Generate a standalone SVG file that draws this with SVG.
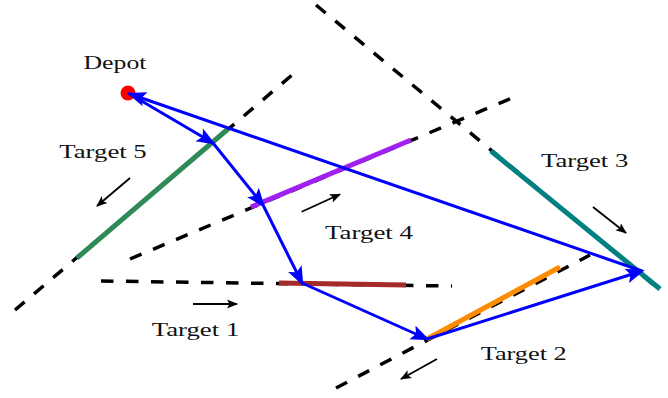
<svg xmlns="http://www.w3.org/2000/svg" width="668" height="398" viewBox="0 0 668 398">
  <defs>
    <marker id="bh" markerUnits="userSpaceOnUse" markerWidth="20" markerHeight="16" viewBox="0 0 20 16" refX="16" refY="8" orient="auto">
      <path d="M0,0.5 L19,8 L0,15.5 L4,8 Z" fill="#0000ff"/>
    </marker>
    <marker id="kh" markerUnits="userSpaceOnUse" markerWidth="12" markerHeight="10" viewBox="0 0 12 10" refX="10" refY="5" orient="auto">
      <path d="M0,0.5 L11,5 L0,9.5 L2.5,5 Z" fill="#000"/>
    </marker>
    <style>
      .dash { stroke: #000; stroke-width: 3.5; stroke-dasharray: 12.5 12.5; fill: none; }
      .seg { stroke-width: 5; fill: none; stroke-linecap: butt; }
      .dir { stroke: #000; stroke-width: 1.8; fill: none; marker-end: url(#kh); }
      .lbl { font-family: "Liberation Serif", "DejaVu Serif", serif; font-size: 18px; fill: #111; }
      .route { stroke: #0000ff; stroke-width: 3; fill: none; marker-end: url(#bh); }
    </style>
  </defs>
  <rect width="668" height="398" fill="#fff"/>

  <g id="target5">
    <line class="dash" x1="15" y1="310" x2="298" y2="70"/>
    <line class="seg" stroke="#2e8b57" x1="77" y1="258" x2="228" y2="129"/>
    <line class="dir" x1="130" y1="178" x2="97" y2="206"/>
    <text class="lbl" x="59.3" y="158.3" textLength="87.4" lengthAdjust="spacingAndGlyphs">Target 5</text>
  </g>

  <g id="target4">
    <line class="dash" x1="130" y1="259" x2="519" y2="95"/>
    <line class="seg" stroke="#a020f0" x1="251" y1="207" x2="411" y2="140"/>
    <line class="dir" x1="301.7" y1="211.7" x2="340" y2="194.3"/>
    <text class="lbl" x="325" y="239" textLength="88" lengthAdjust="spacingAndGlyphs">Target 4</text>
  </g>

  <g id="target3">
    <line class="dash" x1="316" y1="5" x2="660" y2="290"/>
    <line class="seg" stroke="#008080" x1="491" y1="151" x2="660" y2="289"/>
    <line class="dir" x1="593" y1="207" x2="626" y2="233"/>
    <text class="lbl" x="541" y="166.7" textLength="87.3" lengthAdjust="spacingAndGlyphs">Target 3</text>
  </g>

  <g id="target1">
    <line class="dash" x1="101" y1="281" x2="452" y2="286"/>
    <line class="seg" stroke="#a52a2a" x1="279" y1="283" x2="406" y2="285"/>
    <line class="dir" x1="193" y1="304" x2="237" y2="304"/>
    <text class="lbl" x="151.7" y="336" textLength="87.6" lengthAdjust="spacingAndGlyphs">Target 1</text>
  </g>

  <g id="target2">
    <line class="dash" x1="336" y1="388" x2="590" y2="255"/>
    <line class="seg" stroke="#ff8c00" x1="427" y1="339" x2="560" y2="267"/>
    <line class="dir" x1="437" y1="359" x2="401" y2="379"/>
    <text class="lbl" x="480.7" y="360" textLength="86" lengthAdjust="spacingAndGlyphs">Target 2</text>
  </g>

  <g id="depot">
    <circle cx="128" cy="93" r="7.5" fill="#ff0000"/>
    <text class="lbl" x="83.5" y="69" textLength="63" lengthAdjust="spacingAndGlyphs">Depot</text>
  </g>

  <g id="connectors">
    <line class="route" x1="128" y1="93" x2="213" y2="143"/>
    <line class="route" x1="213" y1="143" x2="263" y2="205"/>
    <line class="route" x1="263" y1="205" x2="302" y2="283"/>
    <line class="route" x1="302" y1="283" x2="427" y2="339"/>
    <line class="route" x1="427" y1="339" x2="642" y2="271"/>
    <line class="route" x1="642" y1="271" x2="130" y2="94"/>
  </g>
</svg>
